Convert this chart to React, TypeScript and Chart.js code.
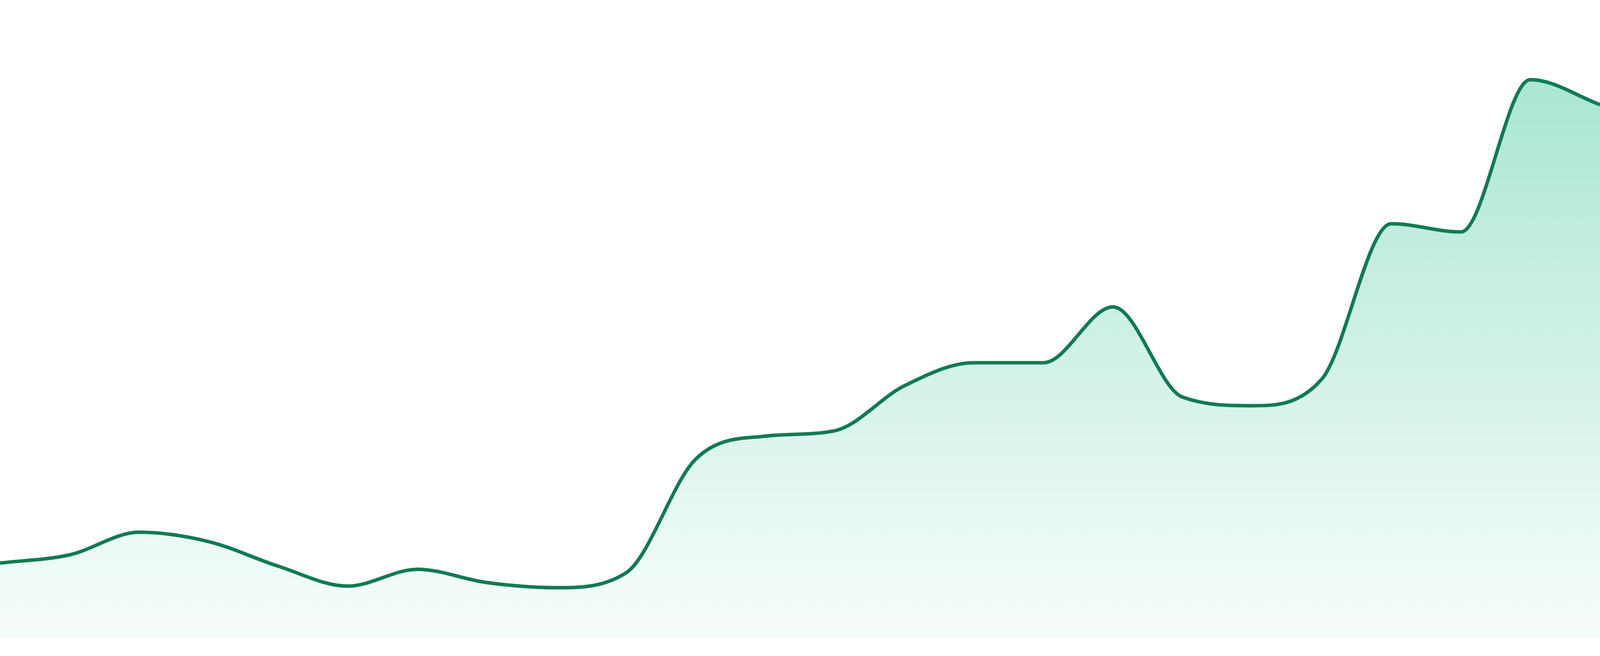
import React, { useEffect, useRef } from "react";
import { Chart, registerables } from "chart.js";

Chart.register(...registerables);

const labels = [
  "01", "02", "03", "04", "05", "06", "07", "08", "09", "10", "11", "12",
  "13", "14", "15", "16", "17", "18", "19", "20", "21", "22", "23", "24",
];

const values = [
  11.64, 12.93, 16.48, 15.01, 11.15, 8.03, 10.66, 8.58, 7.78, 10.11, 27.94, 31.56,
  32.41, 39.46, 43.08, 43.08, 51.84, 37.68, 36.34, 40.5, 64.89, 63.6, 87.5, 83.58,
];

const yMin = 0;
const yMax = 100;

const lineColor = "#117b52";
const fillTop = "rgba(16, 185, 129, 0.40)";
const fillBottom = "rgba(16, 185, 129, 0.03)";

export default function App() {
  const canvasRef = useRef<HTMLCanvasElement | null>(null);

  useEffect(() => {
    const canvas = canvasRef.current;
    if (!canvas) return;
    const h = window.innerHeight;
    const padBottom = (h * 48) / 1680;
    const lineWidth = (h * 9) / 1680;
    const chart = new Chart(canvas, {
      type: "line",
      data: {
        labels,
        datasets: [
          {
            data: values,
            borderColor: lineColor,
            borderWidth: lineWidth,
            pointRadius: 0,
            pointHoverRadius: 0,
            cubicInterpolationMode: "monotone",
            fill: "start",
            backgroundColor: (ctx: any) => {
              const area = ctx.chart.chartArea;
              if (!area) return fillTop;
              const g = ctx.chart.ctx.createLinearGradient(0, area.top, 0, area.bottom);
              g.addColorStop(0, fillTop);
              g.addColorStop(1, fillBottom);
              return g;
            },
          },
        ],
      },
      options: {
        animation: false,
        responsive: true,
        maintainAspectRatio: false,
        layout: { padding: { left: 0, right: 0, top: 0, bottom: padBottom } },
        plugins: {
          legend: { display: false },
          tooltip: { enabled: false },
          title: { display: false },
        },
        scales: {
          x: { display: false, offset: false },
          y: { display: false, min: yMin, max: yMax },
        },
      },
    });
    return () => chart.destroy();
  }, []);

  return (
    <div
      style={{
        position: "fixed",
        left: 0,
        top: 0,
        width: "100vw",
        height: "100vh",
        background: "#ffffff",
      }}
    >
      <canvas ref={canvasRef} style={{ display: "block" }} />
    </div>
  );
}
